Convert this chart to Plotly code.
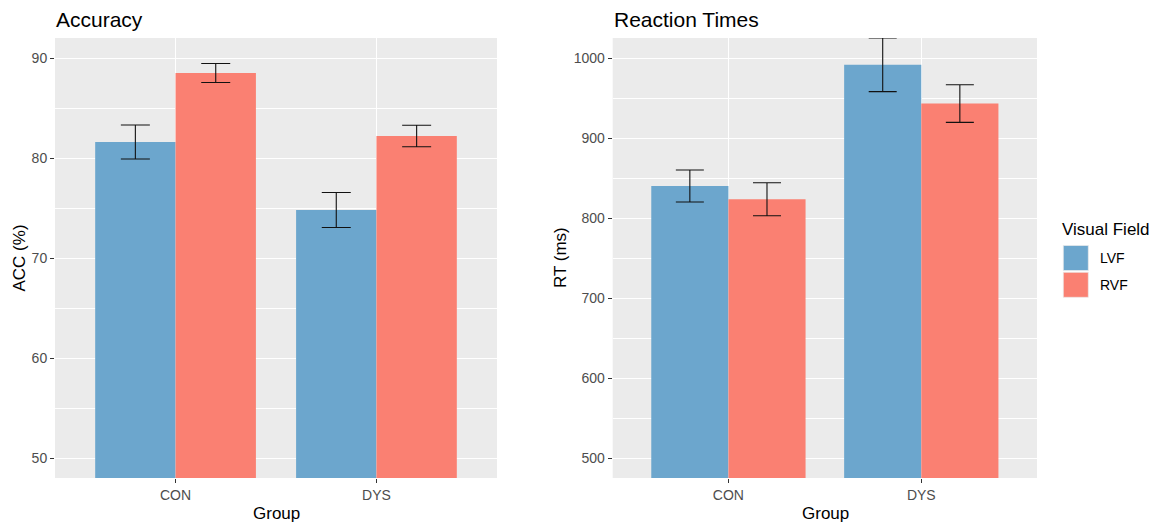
import plotly.graph_objects as go

groups = ["CON", "DYS"]
fields = ["LVF", "RVF"]
colors = {"LVF": "#6CA6CD", "RVF": "#FA8072"}

acc_mean = {"LVF": [81.6, 74.8], "RVF": [88.5, 82.2]}
acc_err = {"LVF": [1.7, 1.75], "RVF": [0.95, 1.07]}
rt_mean = {"LVF": [840, 991.5], "RVF": [823.5, 943]}
rt_err = {"LVF": [20, 33.5], "RVF": [20.6, 23.5]}

acc_ticks = [50, 60, 70, 80, 90]
rt_ticks = [500, 600, 700, 800, 900, 1000]

FONT = "Liberation Sans, Arial, sans-serif"
TITLE_SIZE = 21
AXIS_TITLE_SIZE = 17
TICK_SIZE = 14
fig = go.Figure()

for f in fields:
    fig.add_trace(go.Bar(
        x=groups, y=acc_mean[f], name=f, marker_color=colors[f], marker_line_width=0,
        error_y=dict(type="data", array=acc_err[f], color="#111111", thickness=1.1, width=14.5),
        xaxis="x", yaxis="y", offsetgroup=f, showlegend=False))
    fig.add_trace(go.Bar(
        x=groups, y=rt_mean[f], name=f, marker_color=colors[f], marker_line_width=0,
        error_y=dict(type="data", array=rt_err[f], color="#111111", thickness=1.1, width=14),
        xaxis="x2", yaxis="y2", offsetgroup=f, showlegend=False))

L, R, T, B = 55, 116, 38, 45
W = 1153 - L - R
H = 523 - T - B

def px(x):
    return (x - L) / W

def py(y):
    return (523 - B - y) / H

axis_common = dict(
    showgrid=True, gridcolor="white", gridwidth=1.1,
    ticks="outside", ticklen=4, tickwidth=1.1, tickcolor="#333333",
    tickfont=dict(family=FONT, size=TICK_SIZE, color="#4D4D4D"),
    zeroline=False, showline=False,
)

fig.update_layout(
    width=1153, height=523,
    margin=dict(l=L, r=R, t=T, b=B, pad=0),
    paper_bgcolor="white", plot_bgcolor="#EBEBEB",
    barmode="group", bargap=0.2, bargroupgap=0,
    font=dict(family=FONT, color="black"),
    xaxis=dict(domain=[0, px(497)], type="category", range=[-0.6, 1.6], anchor="y", **axis_common),
    yaxis=dict(domain=[0, 1], range=[48, 92], tickvals=acc_ticks, anchor="x",
               minor=dict(dtick=5, tick0=45, showgrid=True, gridcolor="white", gridwidth=0.55, ticks=""),
               **axis_common),
    xaxis2=dict(domain=[px(612.7), 1], type="category", range=[-0.6, 1.6], anchor="y2", **axis_common),
    yaxis2=dict(domain=[0, 1], range=[475, 1025], tickvals=rt_ticks, anchor="x2",
                minor=dict(dtick=50, tick0=450, showgrid=True, gridcolor="white", gridwidth=0.55, ticks=""),
                **axis_common),
)

ann = []
ann.append(dict(text="Accuracy", x=px(54), y=py(20), xref="paper", yref="paper",
                xanchor="left", yanchor="middle", showarrow=False, font=dict(size=TITLE_SIZE, family=FONT, color="black")))
ann.append(dict(text="Reaction Times", x=px(611.7), y=py(20), xref="paper", yref="paper",
                xanchor="left", yanchor="middle", showarrow=False, font=dict(size=TITLE_SIZE, family=FONT, color="black")))
ann.append(dict(text="Group", x=px(276), y=py(513), xref="paper", yref="paper",
                xanchor="center", yanchor="middle", showarrow=False, font=dict(size=AXIS_TITLE_SIZE, family=FONT, color="black")))
ann.append(dict(text="Group", x=px(825), y=py(513), xref="paper", yref="paper",
                xanchor="center", yanchor="middle", showarrow=False, font=dict(size=AXIS_TITLE_SIZE, family=FONT, color="black")))
ann.append(dict(text="ACC (%)", x=px(18.5), y=py(258), xref="paper", yref="paper", textangle=-90,
                xanchor="center", yanchor="middle", showarrow=False, font=dict(size=AXIS_TITLE_SIZE, family=FONT, color="black")))
ann.append(dict(text="RT (ms)", x=px(560), y=py(258), xref="paper", yref="paper", textangle=-90,
                xanchor="center", yanchor="middle", showarrow=False, font=dict(size=AXIS_TITLE_SIZE, family=FONT, color="black")))
ann.append(dict(text="Visual Field", x=px(1060), y=py(229), xref="paper", yref="paper",
                xanchor="left", yanchor="middle", showarrow=False, font=dict(size=AXIS_TITLE_SIZE, family=FONT, color="black")))

shapes = []
key_top = 245.5
for i, f in enumerate(fields):
    y0 = key_top + i * 26.8
    shapes.append(dict(type="rect", xref="paper", yref="paper",
                       x0=px(1063.3), x1=px(1088.3), y0=py(y0), y1=py(y0 + 25),
                       fillcolor=colors[f], line=dict(width=1, color="rgba(235,235,235,0.7)")))
    ann.append(dict(text=f, x=px(1097.5), y=py(y0 + 12.5), xref="paper", yref="paper",
                    xanchor="left", yanchor="middle", showarrow=False,
                    font=dict(size=TICK_SIZE, family=FONT, color="black")))

fig.update_layout(annotations=ann, shapes=shapes)
fig.write_html("out.html")
